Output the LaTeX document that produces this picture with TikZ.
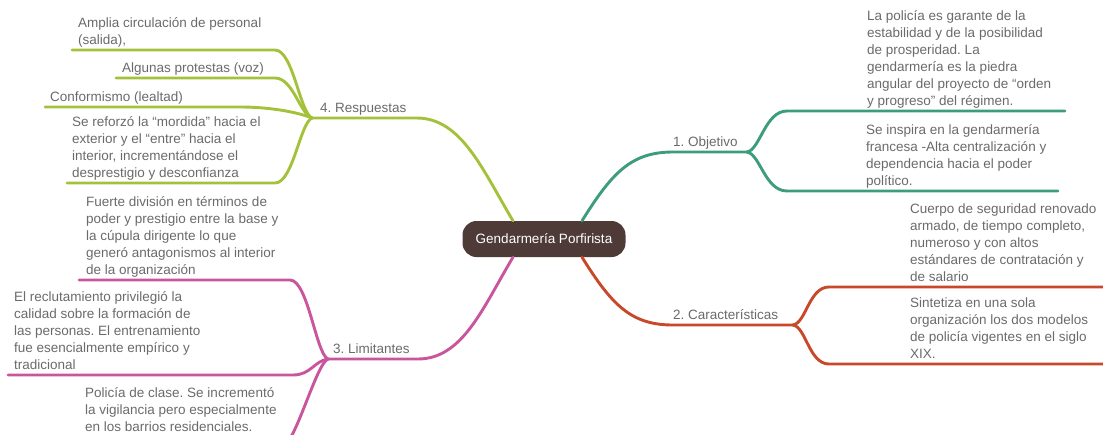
\documentclass[tikz,border=0pt]{standalone}
\usepackage{fontspec}
\setmainfont{Liberation Sans}
\frenchspacing

\definecolor{txtgray}{HTML}{6A6A6A}
\definecolor{corebrown}{HTML}{4E3B38}
\definecolor{objgreen}{HTML}{3C9C7C}
\definecolor{carorange}{HTML}{C8482A}
\definecolor{limpink}{HTML}{C9559C}
\definecolor{reslime}{HTML}{A3C13A}

\def\textSize{\fontsize{13.5}{17}\selectfont}

\tikzset{
  leaf/.style={anchor=south west, inner sep=0pt, align=left, text=txtgray,
    font=\textSize, execute at end node=\strut},
  branch/.style={line width=2.9pt, line cap=round},
  core/.style={fill=corebrown, text=white, rounded corners=14pt, font=\textSize,
    minimum width=163pt, minimum height=36pt, inner sep=0pt},
}

\begin{document}
\begin{tikzpicture}[x=1pt,y=-1pt]
    \useasboundingbox (0,0) rectangle (1103,434);

    % centre
    \node[core] (root) at (544,239) {Gendarmería Porfirista};

    % 1. Objetivo
    \node[leaf] (obj) at (673,152) {1. Objetivo};
    \coordinate (fobj) at (747,152);
    \coordinate (e1a) at (1065,111);
    \coordinate (e1b) at (1058,191);
    \draw[branch,objgreen] ([xshift=38pt]root.north) .. controls +(30,-48) and +(-42,0) .. (obj.south west) -- (fobj);
    \draw[branch,objgreen] (fobj) .. controls +(13,-2) and +(-22,0) .. ++(40,-41) -- (e1a);
    \draw[branch,objgreen] (fobj) .. controls +(13,2) and +(-22,0) .. ++(40,39) -- (e1b);
    \node[leaf] (t1a) at (867,111) {La policía es garante de la\\estabilidad y de la posibilidad\\de prosperidad. La\\gendarmería es la piedra\\angular del proyecto de “orden\\y progreso” del régimen.};
    \node[leaf] (t1b) at (866,191) {Se inspira en la gendarmería\\francesa -Alta centralización y\\dependencia hacia el poder\\político.};

    % 2. Caracteristicas
    \node[leaf] (car) at (673,325) {2. Características};
    \coordinate (fcar) at (793,325);
    \coordinate (e2a) at (1110,287);
    \coordinate (e2b) at (1110,364);
    \draw[branch,carorange] ([xshift=38pt]root.south) .. controls +(30,48) and +(-42,0) .. (car.south west) -- (fcar);
    \draw[branch,carorange] (fcar) .. controls +(13,-2) and +(-20,0) .. ++(36,-38) -- (e2a);
    \draw[branch,carorange] (fcar) .. controls +(13,2) and +(-20,0) .. ++(36,39) -- (e2b);
    \node[leaf] (t2a) at (910,287) {Cuerpo de seguridad renovado\\armado, de tiempo completo,\\numeroso y con altos\\estándares de contratación y\\de salario};
    \node[leaf] (t2b) at (910,364) {Sintetiza en una sola\\organización los dos modelos\\de policía vigentes en el siglo\\XIX.};

    % 4. Respuestas
    \node[leaf] (res) at (320,118) {4. Respuestas};
    \coordinate (fres) at (312,118);
    \coordinate (e4a) at (72,50);
    \coordinate (e4b) at (116,78);
    \coordinate (e4c) at (45,107);
    \coordinate (e4d) at (67,183);
    \draw[branch,reslime] ([xshift=-31pt]root.north) .. controls +(-30,-50) and +(45,0) .. ([xshift=10pt]res.south east) -- (fres);
    \draw[branch,reslime] (fres) .. controls +(-12,-5) and +(18,0) .. ++(-37,-68) -- (e4a);
    \draw[branch,reslime] (fres) .. controls +(-12,-4) and +(18,0) .. ++(-37,-40) -- (e4b);
    \draw[branch,reslime] (fres) .. controls +(-15,-6) and +(30,0) .. ++(-72,-11) -- (e4c);
    \draw[branch,reslime] (fres) .. controls +(-12,5) and +(18,0) .. ++(-37,65) -- (e4d);
    \node[leaf] (t4a) at (78,50) {Amplia circulación de personal\\(salida),};
    \node[leaf] (t4b) at (122,78) {Algunas protestas (voz)};
    \node[leaf] (t4c) at (50,107) {Conformismo (lealtad)};
    \node[leaf] (t4d) at (72,183) {Se reforzó la “mordida” hacia el\\exterior y el “entre” hacia el\\interior, incrementándose el\\desprestigio y desconfianza};

    % 3. Limitantes
    \node[leaf] (lim) at (333,359) {3. Limitantes};
    \coordinate (flim) at (328,359);
    \coordinate (e3a) at (79,280);
    \coordinate (e3b) at (8,375);
    \coordinate (e3c) at (79,445);
    \draw[branch,limpink] ([xshift=-31pt]root.south) .. controls +(-30,50) and +(45,0) .. ([xshift=8pt]lim.south east) -- (flim);
    \draw[branch,limpink] (flim) .. controls +(-12,-5) and +(18,0) .. ++(-38,-79) -- (e3a);
    \draw[branch,limpink] (flim) .. controls +(-14,2) and +(18,0) .. ++(-35,16) -- (e3b);
    \draw[branch,limpink] (flim) .. controls +(-12,5) and +(12,0) .. ++(-45,86) -- (e3c);
    \node[leaf] (t3a) at (86,280) {Fuerte división en términos de\\poder y prestigio entre la base y\\la cúpula dirigente lo que\\generó antagonismos al interior\\de la organización};
    \node[leaf] (t3b) at (14,375) {El reclutamiento privilegió la\\calidad sobre la formación de\\las personas. El entrenamiento\\fue esencialmente empírico y\\tradicional};
    \node[leaf] (t3c) at (85,437) {Policía de clase. Se incrementó\\la vigilancia pero especialmente\\en los barrios residenciales.};
\end{tikzpicture}
\end{document}
